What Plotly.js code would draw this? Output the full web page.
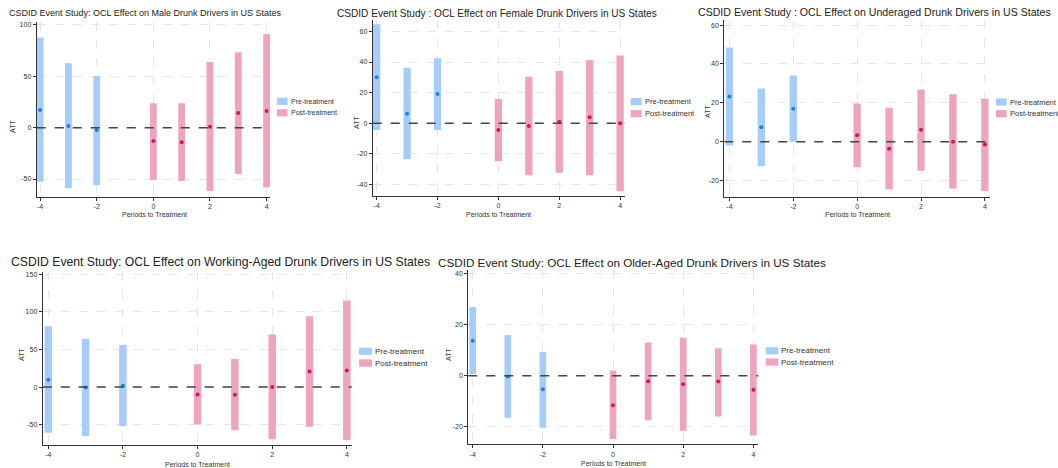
<!DOCTYPE html>
<html>
<head>
<meta charset="utf-8">
<script src="https://cdn.plot.ly/plotly-3.0.1.min.js"></script>
<style>html,body{margin:0;padding:0;background:#fff;overflow:hidden;}#chart{width:1058px;height:468px;}</style>
</head>
<body>
<div id="chart"></div>
<script>
// ---- Data ----
const periods = [-4, -3, -2, 0, 1, 2, 3, 4];
const xTickVals = [-4, -2, 0, 2, 4];

const titles = [
  "CSDID Event Study: OCL Effect on Male Drunk Drivers in US States",
  "CSDID Event Study : OCL Effect on Female Drunk Drivers in US States",
  "CSDID Event Study : OCL Effect on Underaged Drunk Drivers in US States",
  "CSDID Event Study: OCL Effect on Working-Aged Drunk Drivers in US States",
  "CSDID Event Study: OCL Effect on Older-Aged Drunk Drivers in US States"
];
const legendNames = ["Pre-treatment", "Post-treatment"];
const xTitle = "Periods to Treatment";
const yTitle = "ATT";

// Male
const maleATT = [17.2, 1.6, -2.3, -13.0, -14.3, 1.0, 14.3, 16.2];
const maleLo  = [-52.6, -59.0, -55.8, -51.0, -52.0, -61.7, -45.0, -58.0];
const maleHi  = [87.7, 62.7, 50.3, 23.7, 23.7, 64.0, 73.4, 91.2];
const maleYTicks = [-50, 0, 50, 100];

// Female
const femaleATT = [30.0, 6.3, 19.1, -4.3, -1.7, 1.1, 3.9, 0.0];
const femaleLo  = [-4.3, -23.5, -4.3, -24.8, -33.9, -32.2, -33.9, -44.3];
const femaleHi  = [64.6, 36.3, 42.4, 15.9, 30.4, 34.1, 41.3, 44.3];
const femaleYTicks = [-40, -20, 0, 20, 40, 60];

// Underaged
const underATT = [23.3, 7.4, 17.0, 3.3, -3.6, 6.2, 0.0, -1.5];
const underLo  = [-2.0, -12.5, 0.0, -13.2, -24.5, -14.9, -24.2, -25.4];
const underHi  = [48.5, 27.3, 34.0, 19.7, 17.5, 26.9, 24.4, 22.1];
const underYTicks = [-20, 0, 20, 40, 60];

// Working-aged
const workATT = [9.7, -0.4, 1.8, -9.7, -10.2, 0.0, 20.8, 22.1];
const workLo  = [-60.6, -65.0, -51.8, -49.6, -57.5, -69.5, -52.7, -70.4];
const workHi  = [81.0, 64.2, 55.8, 30.5, 37.2, 69.9, 94.2, 115.0];
const workYTicks = [-50, 0, 50, 100, 150];

// Older-aged
const oldATT = [13.7, -0.3, -5.3, -11.5, -2.2, -3.3, -2.3, -5.5];
const oldLo  = [0.7, -16.4, -20.3, -24.7, -17.4, -21.5, -15.9, -23.4];
const oldHi  = [26.8, 15.9, 9.4, 2.0, 13.0, 14.8, 10.7, 12.2];
const oldYTicks = [-20, 0, 20, 40];

// ---- Layout geometry (pixels) ----
const W = 1058, H = 468;
const panels = [
  {att: maleATT, lo: maleLo, hi: maleHi, yt: maleYTicks,
   px: [36.7, 270], py: [21.7, 197], xr: [-4.12, 4.12], yr: [-67.5, 103.2], bw: 0.24,
   title: [7.5, 13.3, 9.0], leg: [277, 287.5, 101.3, 112.8, 289.5, 7], att_pos: [13, 127], xt: [154, 215]},
  {att: femaleATT, lo: femaleLo, hi: femaleHi, yt: femaleYTicks,
   px: [372.7, 625], py: [20, 196], xr: [-4.13, 4.16], yr: [-47.4, 67.4], bw: 0.24,
   title: [336, 13, 10.1], leg: [630.7, 641.7, 101.7, 113.7, 644, 7.5], att_pos: [357, 123], xt: [498, 215]},
  {att: underATT, lo: underLo, hi: underHi, yt: underYTicks,
   px: [724.3, 990], py: [20, 196.7], xr: [-4.16, 4.16], yr: [-28.3, 62.6], bw: 0.23,
   title: [697, 12, 10.6], leg: [996, 1006.7, 102, 113.7, 1009.3, 7.5], att_pos: [707, 112], xt: [857, 215]},
  {att: workATT, lo: workLo, hi: workHi, yt: workYTicks,
   px: [42.7, 351.7], py: [272, 445], xr: [-4.15, 4.13], yr: [-77, 153], bw: 0.2,
   title: [10, 262, 12.2], leg: [359, 372, 351.3, 363, 374, 8], att_pos: [21, 355], xt: [197, 464]},
  {att: oldATT, lo: oldLo, hi: oldHi, yt: oldYTicks,
   px: [468.3, 758.3], py: [270, 444.3], xr: [-4.125, 4.14], yr: [-26.8, 41.3], bw: 0.19,
   title: [437, 262, 11.7], leg: [765.7, 778.3, 350.8, 362, 780, 8], att_pos: [448, 355], xt: [613, 463]}
];

const preBar = '#a6cdf8', prePt = '#1f80e8';
const postBar = '#eea3be', postPt = '#d8135d';
const fontFam = 'Liberation Sans, Arial, sans-serif';

const data = [];
const layout = {
  width: W, height: H,
  margin: {l: 0, r: 0, t: 0, b: 0, autoexpand: false},
  paper_bgcolor: '#fff', plot_bgcolor: '#fff',
  barmode: 'overlay',
  showlegend: false,
  font: {family: fontFam, color: '#333'},
  annotations: [],
  shapes: []
};

panels.forEach((p, i) => {
  const sfx = i === 0 ? '' : String(i + 1);
  const xa = 'x' + sfx, ya = 'y' + sfx;
  const idxPre = periods.map((v, k) => k).filter(k => periods[k] < 0);
  const idxPost = periods.map((v, k) => k).filter(k => periods[k] >= 0);
  const groups = [[idxPre, preBar, prePt, legendNames[0]], [idxPost, postBar, postPt, legendNames[1]]];
  groups.forEach(([idx, bc, pc, nm]) => {
    data.push({
      type: 'bar', xaxis: xa, yaxis: ya, name: nm,
      x: idx.map(k => periods[k]),
      base: idx.map(k => p.lo[k]),
      y: idx.map(k => p.hi[k] - p.lo[k]),
      width: p.bw,
      marker: {color: bc, line: {width: 0}},
      hoverinfo: 'skip'
    });
  });
  groups.forEach(([idx, bc, pc, nm]) => {
    data.push({
      type: 'scatter', mode: 'markers', xaxis: xa, yaxis: ya, showlegend: false,
      x: idx.map(k => periods[k]),
      y: idx.map(k => p.att[k]),
      marker: {color: pc, size: 4},
      hoverinfo: 'skip'
    });
  });

  const axCommon = {
    showline: true, linecolor: '#333', linewidth: 1, mirror: false,
    ticks: 'outside', ticklen: 3, tickcolor: '#333', tickwidth: 1,
    showgrid: true, gridcolor: '#e6e6e6', griddash: 'dash', gridwidth: 1,
    zeroline: false,
    tickfont: {size: 7, color: '#333', family: fontFam},
    fixedrange: true
  };
  layout['xaxis' + sfx] = Object.assign({}, axCommon, {
    domain: [p.px[0] / W, p.px[1] / W],
    range: p.xr, anchor: ya,
    tickmode: 'array', tickvals: xTickVals, ticktext: xTickVals.map(String)
  });
  layout['yaxis' + sfx] = Object.assign({}, axCommon, {
    domain: [1 - p.py[1] / H, 1 - p.py[0] / H],
    range: p.yr, anchor: xa,
    tickmode: 'array', tickvals: p.yt, ticktext: p.yt.map(String)
  });
  // zero reference line
  layout.shapes.push({
    type: 'line', xref: xa + ' domain', yref: ya, x0: 0, x1: 1, y0: 0, y1: 0,
    line: {color: '#444', width: 1.5, dash: 'dash'}
  });
  // legend (swatches + labels)
  const [bx0, bx1, ly1, ly2, tx, fs] = p.leg;
  [[ly1, preBar, legendNames[0]], [ly2, postBar, legendNames[1]]].forEach(([ly, col, nm]) => {
    layout.shapes.push({
      type: 'rect', xref: 'paper', yref: 'paper',
      x0: bx0 / W, x1: bx1 / W, y0: 1 - (ly + 3.6) / H, y1: 1 - (ly - 3.6) / H,
      fillcolor: col, line: {width: 0}
    });
    layout.annotations.push({
      xref: 'paper', yref: 'paper', x: tx / W, y: 1 - ly / H,
      xanchor: 'left', yanchor: 'middle', showarrow: false, text: nm,
      font: {size: fs, color: '#333', family: fontFam}, borderpad: 0
    });
  });
  // panel title
  layout.annotations.push({
    xref: 'paper', yref: 'paper', x: p.title[0] / W, y: 1 - p.title[1] / H,
    xanchor: 'left', yanchor: 'middle', showarrow: false, text: titles[i],
    font: {size: p.title[2], color: '#222', family: fontFam}, borderpad: 0
  });
  // axis titles
  layout.annotations.push({
    xref: 'paper', yref: 'paper', x: p.att_pos[0] / W, y: 1 - p.att_pos[1] / H,
    xanchor: 'center', yanchor: 'middle', showarrow: false, text: yTitle, textangle: -90,
    font: {size: 7, color: '#333', family: fontFam}, borderpad: 0
  });
  layout.annotations.push({
    xref: 'paper', yref: 'paper', x: p.xt[0] / W, y: 1 - p.xt[1] / H,
    xanchor: 'center', yanchor: 'middle', showarrow: false, text: xTitle,
    font: {size: 7, color: '#333', family: fontFam}, borderpad: 0
  });
});

Plotly.newPlot('chart', data, layout, {staticPlot: true, displayModeBar: false});
</script>
</body>
</html>
